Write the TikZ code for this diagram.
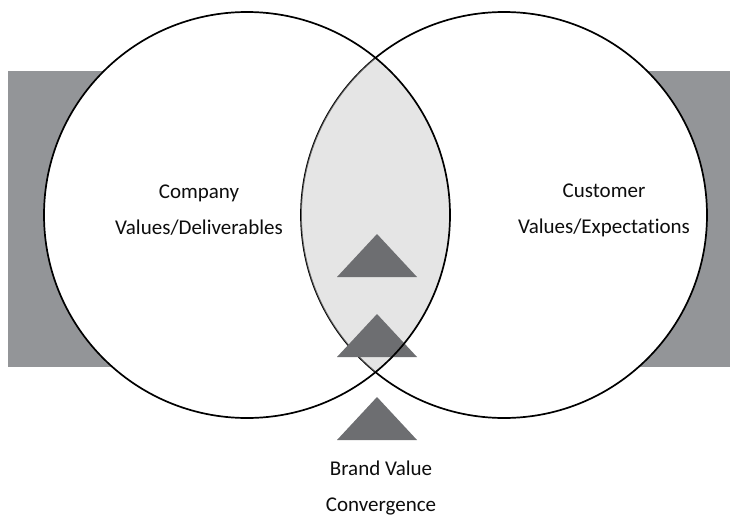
\documentclass[tikz,border=0pt]{standalone}
\usepackage{fontspec}
\setmainfont[Ligatures=NoCommon]{Carlito}
\usetikzlibrary{positioning}

\definecolor{backgray}{HTML}{939598}
\definecolor{arrowgray}{HTML}{6D6E71}
\definecolor{lensgray}{HTML}{CCCCCC}

\tikzset{
  ring/.style={draw=black,line width=1.7pt},
  caption/.style={align=center,font=\fontsize{21}{36}\selectfont,text=black!95},
  pointer/.style={fill=arrowgray}
}

\begin{document}
\begin{tikzpicture}[x=1pt,y=-1pt]
\useasboundingbox (0,0) rectangle (736,519);

\coordinate (cc) at (247,215);
\coordinate (uc) at (504,215);

% band behind both circles
\fill[backgray] (8,71) rectangle (730,367);
\fill[white] (cc) circle (203) (uc) circle (203);
\draw[ring] (uc) circle (203);

% overlap of the two circles
\begin{scope}
  \clip (cc) circle (203);
  \fill[lensgray,fill opacity=0.5] (uc) circle (203);
\end{scope}

% three arrow heads going up
\foreach \n/\ty in {1/234,2/314,3/397}
  \fill[pointer] (377,\ty) coordinate (t\n) -- ++(40,43) -- ++(-80,0) -- cycle;

\draw[ring] (cc) circle (203);

\node[caption] (company) at (199,210) {Company\\Values/Deliverables};
\node[caption] (customer) at (604,210) {Customer\\Values/Expectations};
\node[caption] (brand) at (381,488) {Brand Value\\Convergence};

\end{tikzpicture}
\end{document}
